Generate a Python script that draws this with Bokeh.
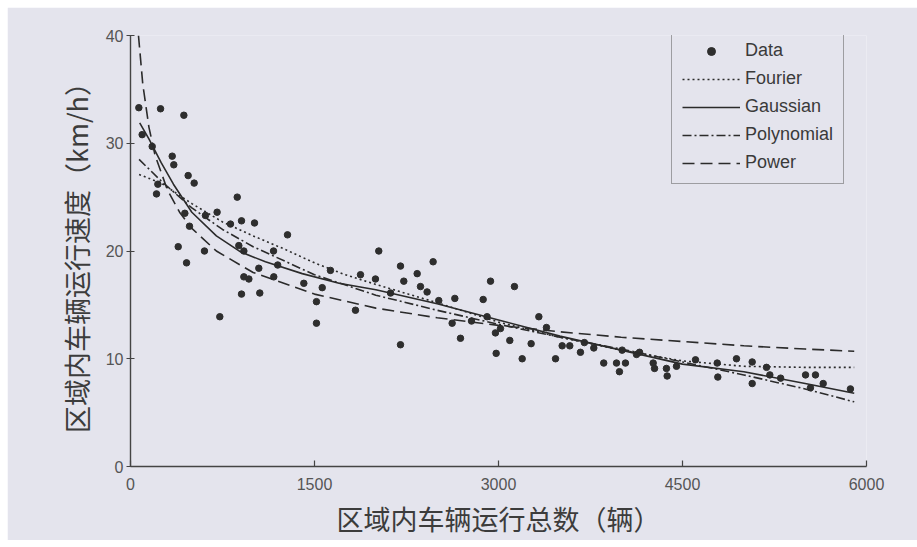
from bokeh.plotting import figure
from bokeh.models import FixedTicker, Legend, LegendItem
from bokeh.embed import file_html
from bokeh.resources import INLINE

# Observed samples: number of vehicles in the area vs. average speed (km/h)
data_x = [68, 245, 435, 95, 340, 353, 470, 519, 223, 212, 870, 443, 706, 611, 481,
          815, 905, 1011, 1280, 389, 603, 457, 883, 924, 924, 965, 1166, 728, 905, 1054,
          1046, 1168, 1413, 1563, 1516, 1516, 2024, 2467, 2201, 2337, 2228, 2364, 2418,
          2935, 3130, 2644, 2875, 1630, 1875, 1997, 1834, 2513, 2690, 3092, 2201, 2120,
          2622, 2975, 2981, 3193, 3266, 3329, 3465, 3519, 3581, 3668, 3858, 3962, 4035,
          3986, 4125, 4261, 4272, 4369, 4375, 4451, 3391, 3777, 4008, 4940, 5068, 5185,
          4788, 5068, 5212, 5503, 5584, 5647, 5543, 5869, 4606, 4783, 177, 2907, 3016,
          1200, 2780, 3700, 4150, 5300]
data_y = [33.3, 33.2, 32.6, 30.8, 28.8, 28.0, 27.0, 26.3, 26.2, 25.3, 25.0, 23.5, 23.6,
          23.3, 22.3, 22.5, 22.8, 22.6, 21.5, 20.4, 20.0, 18.9, 20.5, 20.0, 17.6, 17.4,
          20.0, 13.9, 16.0, 16.1, 18.4, 17.6, 17.0, 16.6, 15.3, 13.3, 20.0, 19.0, 18.6,
          17.9, 17.2, 16.7, 16.2, 17.2, 16.7, 15.6, 15.5, 18.2, 17.8, 17.4, 14.5, 15.4,
          11.9, 11.7, 11.3, 16.1, 13.3, 12.4, 10.5, 10.0, 11.4, 13.9, 10.0, 11.2, 11.2,
          10.6, 9.6, 9.6, 9.6, 8.8, 10.4, 9.6, 9.1, 9.1, 8.4, 9.3, 12.9, 11.0, 10.8,
          10.0, 9.7, 9.2, 8.3, 7.7, 8.5, 8.5, 8.5, 7.7, 7.3, 7.2, 9.9, 9.6, 29.7, 13.9,
          12.8, 18.7, 13.5, 11.5, 10.6, 8.2]

# Fitted curves
fourier_x = [70, 250, 500, 750, 1000, 1250, 1500, 1750, 2000, 2500, 3000, 3500, 4000,
             4500, 5000, 5500, 5900]
fourier_y = [27.1, 26.3, 24.4, 22.7, 21.4, 20.2, 18.9, 17.8, 16.9, 15.2, 13.4, 12.0,
             10.8, 9.8, 9.3, 9.2, 9.2]

gauss_x = [75, 150, 250, 350, 500, 700, 900, 1100, 1400, 1700, 2000, 2500, 3000, 3500,
           4000, 4500, 5000, 5500, 5900]
gauss_y = [31.9, 30.4, 28.2, 26.2, 23.6, 21.4, 19.9, 19.0, 17.9, 17.0, 16.4, 15.1, 13.6,
           12.1, 10.8, 9.5, 8.8, 7.7, 6.8]

poly_x = [70, 250, 500, 750, 1000, 1500, 2000, 2500, 3000, 3500, 4000, 4500, 5000, 5500,
          5900]
poly_y = [28.5, 26.5, 24.0, 22.0, 20.4, 17.8, 15.9, 14.5, 13.2, 12.0, 10.9, 9.7, 8.5,
          7.2, 6.0]

power_x = [65, 100, 150, 200, 300, 400, 500, 700, 1000, 1500, 2000, 2500, 3000, 3500,
           4000, 4500, 5000, 5500, 5900]
power_y = [40.0, 35.5, 31.5, 28.9, 25.7, 23.6, 22.1, 20.0, 18.0, 16.0, 14.7, 13.8, 13.1,
           12.5, 12.0, 11.6, 11.2, 10.9, 10.7]

x_ticks = [0, 1500, 3000, 4500, 6000]
y_ticks = [0, 10, 20, 30, 40]

BG = "#e4e4ed"
INK = "#2b2b2b"

p = figure(width=910, height=533, margin=(7, 0, 0, 7),
           x_range=(0, 6000), y_range=(0, 40),
           output_backend="svg", toolbar_location=None,
           min_border_left=123, min_border_right=51,
           min_border_top=28, min_border_bottom=71)
p.background_fill_color = BG
p.border_fill_color = BG
p.outline_line_color = None
p.grid.visible = False

r_data = p.scatter(data_x, data_y, size=6.5, color="#2e2e2e", marker="circle")
r_four = p.line(fourier_x, fourier_y, line_color=INK, line_width=1.6, line_dash="2 3")
r_gaus = p.line(gauss_x, gauss_y, line_color=INK, line_width=1.6)
r_poly = p.line(poly_x, poly_y, line_color=INK, line_width=1.6, line_dash="9 3 2 3")
r_powr = p.line(power_x, power_y, line_color=INK, line_width=1.6, line_dash="12 6")

for ax in (p.xaxis[0], p.yaxis[0]):
    ax.axis_line_color = "#444444"
    ax.axis_line_width = 1.4
    ax.major_tick_line_color = "#444444"
    ax.major_tick_line_width = 1.2
    ax.minor_tick_line_color = None
    ax.major_label_text_font = "Liberation Sans"
    ax.major_label_text_font_size = "16px"
    ax.major_label_text_color = "#555555"
    ax.axis_label_text_font = "Noto Sans CJK SC"
    ax.axis_label_text_font_style = "normal"
    ax.axis_label_text_font_size = "27px"
    ax.axis_label_text_color = "#3c3c3c"

p.xaxis.ticker = FixedTicker(ticks=x_ticks)
p.yaxis.ticker = FixedTicker(ticks=y_ticks)
p.xaxis.major_tick_in = 6
p.xaxis.major_tick_out = 0
p.xaxis.major_label_standoff = 11
p.xaxis.axis_label_standoff = 6
p.yaxis.major_tick_in = 4
p.yaxis.major_tick_out = 4
p.yaxis.major_label_standoff = 3
p.yaxis.axis_label_standoff = 7

p.xaxis.axis_label = "区域内车辆运行总数（辆）"
p.yaxis.axis_label = "区域内车辆运行速度（km/h）"

legend = Legend(items=[
    LegendItem(label="Data", renderers=[r_data]),
    LegendItem(label="Fourier", renderers=[r_four]),
    LegendItem(label="Gaussian", renderers=[r_gaus]),
    LegendItem(label="Polynomial", renderers=[r_poly]),
    LegendItem(label="Power", renderers=[r_powr]),
], location=(541, 282))
legend.background_fill_alpha = 0
legend.border_line_color = "#555555"
legend.border_line_width = 1.2
legend.label_text_font = "Liberation Sans"
legend.label_text_font_size = "18px"
legend.label_text_color = "#3a3a3a"
legend.glyph_width = 58
legend.glyph_height = 20
legend.label_height = 20
legend.label_standoff = 5
legend.spacing = 7
legend.padding = 10
legend.margin = 0
p.add_layout(legend, "center")

open("out.html", "w").write(file_html(p, INLINE))
